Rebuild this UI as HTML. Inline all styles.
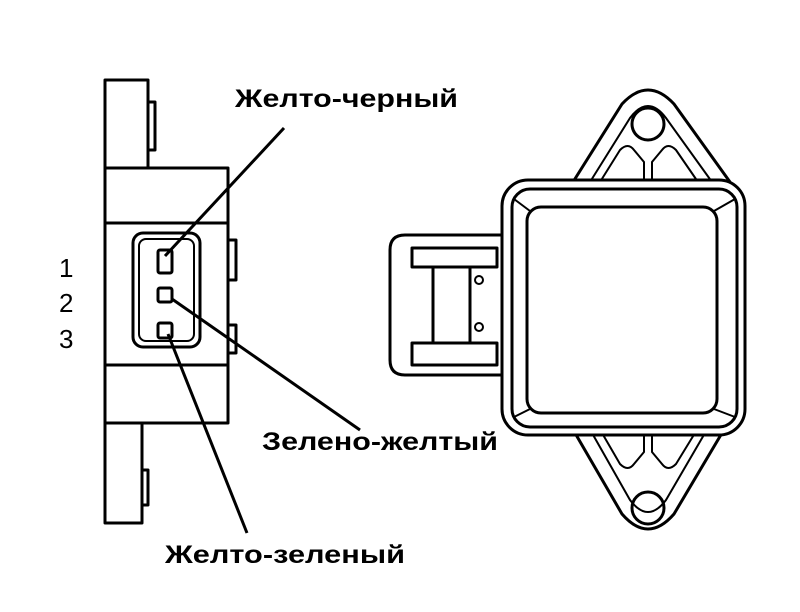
<!DOCTYPE html>
<html><head><meta charset="utf-8"><style>
html,body{margin:0;padding:0;background:#fff;width:800px;height:612px;overflow:hidden}
svg{display:block}
text{font-family:"Liberation Sans",sans-serif;fill:#000}
</style></head><body>
<svg width="800" height="612" viewBox="0 0 800 612" xmlns="http://www.w3.org/2000/svg">
<g fill="none" stroke="#000" stroke-width="3" stroke-linejoin="round">
<rect x="105" y="80" width="43" height="88"/>
<rect x="148" y="102" width="7" height="48"/>
<rect x="105" y="168" width="123" height="255"/>
<line x1="105" y1="223" x2="228" y2="223"/>
<line x1="105" y1="365" x2="228" y2="365"/>
<rect x="228" y="240" width="8" height="40"/>
<rect x="228" y="325" width="8" height="28"/>
<rect x="105" y="423" width="37" height="100"/>
<rect x="142" y="470" width="6" height="35"/>
<rect x="133" y="233" width="67" height="114" rx="10"/>
<rect x="139" y="239" width="55" height="102" rx="7" stroke-width="2"/>
<rect x="158" y="250" width="14" height="23" rx="2"/>
<rect x="158" y="288" width="14" height="14" rx="2"/>
<rect x="158" y="323" width="14" height="15" rx="2"/>
<line x1="165" y1="256" x2="284" y2="128"/>
<line x1="172" y1="299" x2="360" y2="430"/>
<line x1="168" y1="334" x2="247" y2="533"/>
<path d="M573 182 L622 104 Q648 76 674 104 L730 182"/>
<path d="M590 182 L630 118 Q648 94 666 118 L712 182" stroke-width="2"/>
<circle cx="648" cy="124" r="16"/>
<path d="M600 182 L620 150 Q628 142 634 150 L644 162 L644 182 M652 182 L652 162 L662 150 Q668 142 676 150 L698 182" stroke-width="2"/>
<path d="M575 433 L622 514 Q648 544 674 514 L722 433"/>
<path d="M592 433 L630 500 Q648 524 666 500 L705 433" stroke-width="2"/>
<circle cx="648" cy="508" r="16"/>
<path d="M602 433 L620 464 Q628 472 634 464 L644 452 L644 433 M652 433 L652 452 L662 464 Q668 472 676 464 L695 433" stroke-width="2"/>
<rect x="502" y="180" width="243" height="255" rx="26" fill="#fff"/>
<rect x="512" y="189" width="225" height="238" rx="18"/>
<rect x="527" y="207" width="190" height="206" rx="14"/>
<line x1="514" y1="199" x2="530" y2="211" stroke-width="2"/>
<line x1="735" y1="199" x2="714" y2="211" stroke-width="2"/>
<line x1="514" y1="417" x2="530" y2="409" stroke-width="2"/>
<line x1="735" y1="417" x2="714" y2="409" stroke-width="2"/>
<path d="M502 235 L405 235 Q390 235 390 250 L390 360 Q390 375 405 375 L502 375"/>
<rect x="412" y="248" width="85" height="19"/>
<rect x="412" y="343" width="85" height="22"/>
<line x1="433" y1="267" x2="433" y2="343"/>
<line x1="470" y1="267" x2="470" y2="343"/>
<circle cx="479" cy="280" r="4" stroke-width="2"/>
<circle cx="479" cy="327" r="4" stroke-width="2"/>
</g>
<text x="235" y="107" font-size="25" font-weight="bold" textLength="223" lengthAdjust="spacingAndGlyphs">Желто-черный</text>
<text x="262" y="450" font-size="25" font-weight="bold" textLength="236" lengthAdjust="spacingAndGlyphs">Зелено-желтый</text>
<text x="165" y="563" font-size="25" font-weight="bold" textLength="240" lengthAdjust="spacingAndGlyphs">Желто-зеленый</text>
<text x="59" y="277" font-size="26">1</text>
<text x="59" y="312" font-size="26">2</text>
<text x="59" y="348" font-size="26">3</text>
</svg>
</body></html>
